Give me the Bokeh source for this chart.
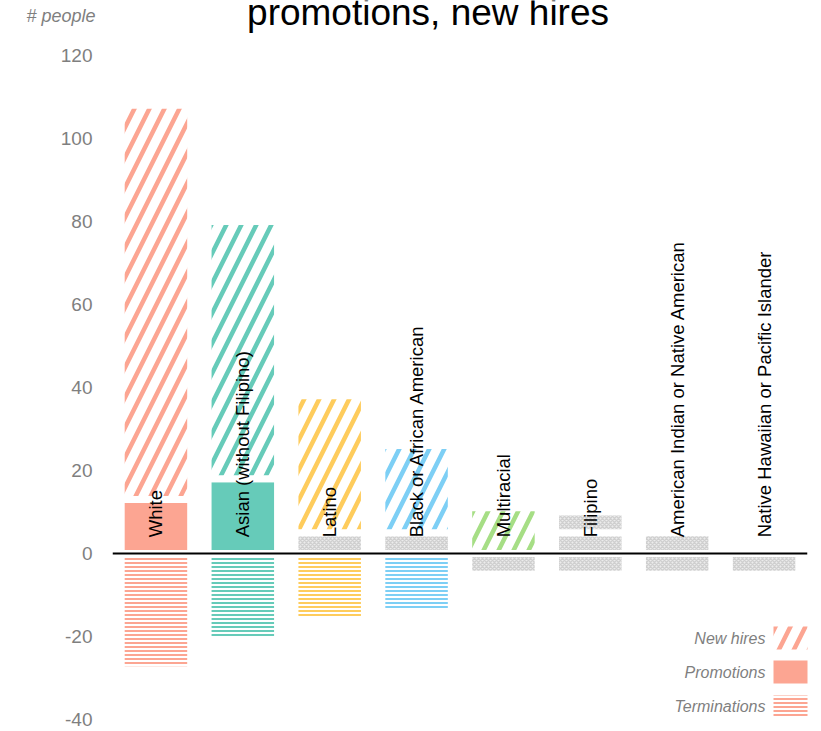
import math
from bokeh.plotting import figure
from bokeh.models import (ColumnDataSource, FactorRange, Range1d, Span, Label,
                          BoxAnnotation, PrintfTickFormatter,
                          LinearAxis, FixedTicker, CustomJSTickFormatter)
from bokeh.core.properties import value, field
from bokeh.embed import file_html
from bokeh.resources import INLINE

# ---------------- data ----------------
categories = ["White", "Asian (without Filipino)", "Latino", "Black or African American",
              "Multiracial", "Filipino", "American Indian or Native American",
              "Native Hawaiian or Pacific Islander"]
promotions = [13, 18, 5, 5, 0, 5, 5, 0]
promotions_suppressed = [False, False, True, True, False, True, True, False]
new_hires = [95, 62, 33, 21, 11, 5, 0, 0]
new_hires_suppressed = [False, False, False, False, False, True, False, False]
terminations = [28, 21, 16, 14, 5, 5, 5, 5]
terminations_suppressed = [False, False, False, False, True, True, True, True]
y_ticks = [-40, -20, 0, 20, 40, 60, 80, 100, 120]
title_text = "promotions, new hires"
y_caption = "# people"
legend_names = ["New hires", "Promotions", "Terminations"]

# ---------------- styles / layout ----------------
colors = ["#fca592", "#66cbb9", "#fecc5c", "#7dcff5", "#a6de85", "#a6de85", "#a6de85", "#a6de85"]
FONT = "Liberation Sans"
GREY_FILL = "#ececec"
GREY_HATCH = "#cfcfcf"
DIAG_SCALE, DIAG_WEIGHT = 30, 4.5
W, H = 821, 731
FRAME_BOTTOM_PAD = 12
TOP_TICK_PX = 55            # canvas y of the top tick
PX_PER_UNIT = (H - FRAME_BOTTOM_PAD - TOP_TICK_PX) / (y_ticks[-1] - y_ticks[0])
Y_END = y_ticks[-1] + TOP_TICK_PX / PX_PER_UNIT   # frame reaches the canvas top


def canvas_to_y(py):
    return Y_END - py / PX_PER_UNIT


p = figure(width=W, height=H,
           x_range=FactorRange(factors=categories, range_padding=0),
           y_range=Range1d(y_ticks[0], Y_END),
           output_backend="svg", toolbar_location=None,
           x_axis_location=None, title_location=None,
           min_border_left=112, min_border_right=14,
           min_border_top=0, min_border_bottom=FRAME_BOTTOM_PAD)
p.outline_line_color = None
p.xgrid.visible = False
p.ygrid.visible = False

ax = p.yaxis[0]
ax.ticker = FixedTicker(ticks=y_ticks)
ax.formatter = PrintfTickFormatter(format="%d")
ax.axis_line_color = None
ax.major_tick_line_color = None
ax.minor_tick_line_color = None
ax.major_tick_out = 0
ax.major_label_standoff = 20
ax.major_label_text_color = "#7f7f7f"
ax.major_label_text_font = FONT
ax.major_label_text_font_size = "19px"

# caption "# people" as an outer left axis with a single labelled tick
cap_axis = LinearAxis(ticker=FixedTicker(ticks=[canvas_to_y(15)]),
                      formatter=CustomJSTickFormatter(code="return '%s'" % y_caption),
                      axis_line_color=None, major_tick_line_color=None,
                      minor_tick_line_color=None, major_tick_out=0,
                      major_label_standoff=-38, major_label_text_color="#7f7f7f",
                      major_label_text_font=FONT, major_label_text_font_style="italic",
                      major_label_text_font_size="18px")
p.add_layout(cap_axis, "left")


def build(kind):
    rows = dict(x=[], bottom=[], top=[], fill=[], hatch=[], hcolor=[], hscale=[], hweight=[])
    for i, c in enumerate(categories):
        if kind == "promo":
            v, s, b, t = promotions[i], promotions_suppressed[i], 0, promotions[i]
        elif kind == "hire":
            v, s = new_hires[i], new_hires_suppressed[i]
            b, t = promotions[i], promotions[i] + new_hires[i]
        else:
            v, s, b, t = terminations[i], terminations_suppressed[i], -terminations[i], 0
        if v == 0:
            continue
        rows["x"].append(c)
        rows["bottom"].append(b)
        rows["top"].append(t)
        if s:
            style = (GREY_FILL, "x", GREY_HATCH, 4, 1.5)
        elif kind == "promo":
            style = (colors[i], "blank", colors[i], 12, 1)
        elif kind == "hire":
            style = ("white", "/", colors[i], DIAG_SCALE, DIAG_WEIGHT)
        else:
            style = ("white", "-", colors[i], 4, 2)
        for k, val in zip(["fill", "hatch", "hcolor", "hscale", "hweight"], style):
            rows[k].append(val)
    return ColumnDataSource(rows)


for kind in ["promo", "hire", "term"]:
    src = build(kind)
    p.vbar(x="x", bottom="bottom", top="top", width=0.8, source=src,
           fill_color="fill", line_color="white", line_width=7,
           hatch_pattern=field("hatch"), hatch_color="hcolor",
           hatch_scale="hscale", hatch_weight="hweight")

p.text(x=categories, y=[3.9] * len(categories), text=categories, angle=math.pi / 2,
       text_align="left", text_baseline="middle", text_font=value(FONT),
       text_font_size="18.5px", text_color="black")

p.add_layout(Span(location=0, dimension="width", line_color="black", line_width=2))

# title: its top runs off the canvas, as in the reference
p.text(x=[(428 - 112) / 87.0], y=[canvas_to_y(12)], text=[title_text],
       text_align="center", text_baseline="middle", text_font=value(FONT),
       text_font_size="37px", text_color="black")

# legend (text left, swatch right)
legend_styles = [(93, 70, "white", "/", DIAG_SCALE, DIAG_WEIGHT),
                 (59, 36, colors[0], "blank", 12, 1),
                 (24, 2, "white", "-", 4, 2)]
for name, (top, bottom, fill, hatch, hs, hw) in zip(legend_names, legend_styles):
    p.add_layout(BoxAnnotation(left=661, right=699, top=top, bottom=bottom,
                               left_units="screen", right_units="screen",
                               top_units="screen", bottom_units="screen",
                               fill_color=fill, fill_alpha=1.0, line_color=None,
                               hatch_pattern=hatch, hatch_color=colors[0],
                               hatch_scale=hs, hatch_weight=hw))
    p.add_layout(Label(x=653, y=(top + bottom) / 2, x_units="screen", y_units="screen",
                       text=name, text_align="right", text_baseline="middle",
                       text_font=FONT, text_font_style="italic",
                       text_font_size="16px", text_color="#7f7f7f"))

open("out.html", "w").write(file_html(p, INLINE))
